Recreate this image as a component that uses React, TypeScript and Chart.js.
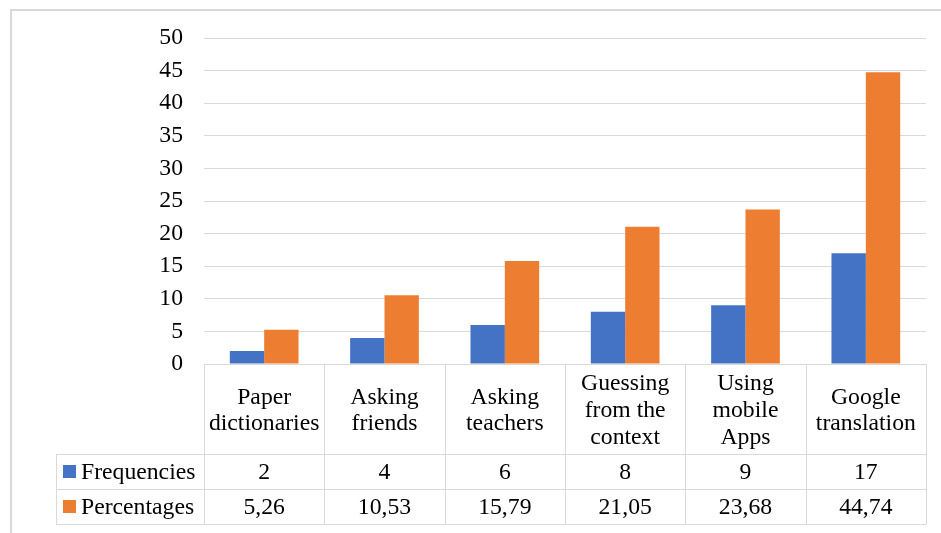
import React, { useEffect, useRef } from "react";
import { Chart, registerables } from "chart.js";

Chart.register(...registerables);

// ---- data ----
const categoryLines: string[][] = [
  ["Paper", "dictionaries"],
  ["Asking", "friends"],
  ["Asking", "teachers"],
  ["Guessing", "from the", "context"],
  ["Using", "mobile", "Apps"],
  ["Google", "translation"],
];
const seriesNames = ["Frequencies", "Percentages"];
const frequencies = [2, 4, 6, 8, 9, 17];
const percentages = [5.26, 10.53, 15.79, 21.05, 23.68, 44.74];
const yMin = 0;
const yMax = 50;
const yStep = 5;

// ---- styles ----
const FONT = "'Liberation Serif', 'Times New Roman', serif";
const FONT_SIZE = 23.7;
const LINE_H = 26.7;
const TEXT_COLOR = "#000000";
const GRID_COLOR = "#d9d9d9";
const COLORS = ["#4472C4", "#ED7D31"];

const W = 941;
const H = 533;
const PLOT_LEFT = 204;

function fmt(v: number, isPct: boolean) {
  return isPct ? v.toFixed(2).replace(".", ",") : String(v);
}

const tablePlugin = {
  id: "dataTable",
  afterDraw(chart: any) {
    const { ctx, chartArea } = chart;
    const xs = chart.scales.x;
    const n = categoryLines.length;
    const catW = (chartArea.right - chartArea.left) / n;
    const top = chartArea.bottom;
    const r1 = top + 90;
    const r2 = r1 + 35;
    const r3 = r2 + 35;
    const legendLeft = 56;

    ctx.save();
    // outer border (extends past the right and bottom edges)
    ctx.strokeStyle = GRID_COLOR;
    ctx.lineWidth = 2;
    ctx.strokeRect(11, 10, W + 20, H + 20);

    ctx.lineWidth = 1;
    ctx.strokeStyle = GRID_COLOR;
    ctx.beginPath();
    ctx.moveTo(chartArea.left, Math.round(top) + 0.5);
    ctx.lineTo(chartArea.right, Math.round(top) + 0.5);
    for (const y of [r1, r2, r3]) {
      ctx.moveTo(legendLeft, Math.round(y) + 0.5);
      ctx.lineTo(chartArea.right, Math.round(y) + 0.5);
    }
    for (let i = 0; i <= n; i++) {
      const x = Math.round(chartArea.left + i * catW) + 0.5;
      ctx.moveTo(x, top);
      ctx.lineTo(x, r3 + 0.5);
    }
    ctx.moveTo(legendLeft + 0.5, r1);
    ctx.lineTo(legendLeft + 0.5, r3 + 0.5);
    ctx.stroke();

    // text
    ctx.fillStyle = TEXT_COLOR;
    ctx.font = `${FONT_SIZE}px ${FONT}`;
    ctx.textAlign = "center";
    ctx.textBaseline = "alphabetic";
    const baseOff = FONT_SIZE * 0.3375;
    const catMid = (top + r1) / 2;
    categoryLines.forEach((lines, i) => {
      const cx = xs.getPixelForValue(i);
      const startMid = catMid - ((lines.length - 1) * LINE_H) / 2;
      lines.forEach((ln, j) => {
        ctx.fillText(ln, cx, startMid + j * LINE_H + baseOff);
      });
    });
    const rows = [
      { vals: frequencies, mid: (r1 + r2) / 2, pct: false },
      { vals: percentages, mid: (r2 + r3) / 2, pct: true },
    ];
    rows.forEach((row, ri) => {
      row.vals.forEach((v, i) => {
        ctx.fillText(fmt(v, row.pct), xs.getPixelForValue(i), row.mid + baseOff);
      });
      ctx.fillStyle = COLORS[ri];
      ctx.fillRect(63, Math.round(row.mid - 6.5), 13, 13);
      ctx.fillStyle = TEXT_COLOR;
      ctx.textAlign = "left";
      ctx.fillText(seriesNames[ri], 81, row.mid + baseOff);
      ctx.textAlign = "center";
    });
    ctx.restore();
  },
};

export default function App() {
  const ref = useRef<HTMLCanvasElement>(null);
  useEffect(() => {
    if (!ref.current) return;
    const chart = new Chart(ref.current, {
      type: "bar",
      data: {
        labels: categoryLines.map((l) => l.join(" ")),
        datasets: [
          {
            label: seriesNames[0],
            data: frequencies,
            backgroundColor: COLORS[0],
            categoryPercentage: 0.571,
            barPercentage: 1.0,
          },
          {
            label: seriesNames[1],
            data: percentages,
            backgroundColor: COLORS[1],
            categoryPercentage: 0.571,
            barPercentage: 1.0,
          },
        ],
      },
      options: {
        animation: false,
        responsive: false,
        maintainAspectRatio: false,
        layout: { padding: { left: 0, right: 15, top: 38, bottom: 169 } },
        plugins: { legend: { display: false }, tooltip: { enabled: false } },
        scales: {
          x: { display: false },
          y: {
            min: yMin,
            max: yMax,
            ticks: {
              stepSize: yStep,
              padding: 21,
              color: TEXT_COLOR,
              font: { family: FONT, size: FONT_SIZE },
            },
            grid: { color: GRID_COLOR, lineWidth: 1, drawTicks: false },
            border: { display: false },
            afterFit: (scale: any) => {
              scale.width = PLOT_LEFT;
              scale.paddingTop = 0;
              scale.paddingBottom = 0;
            },
          },
        },
      },
      plugins: [tablePlugin],
    });
    return () => chart.destroy();
  }, []);
  return (
    <div style={{ position: "absolute", left: 0, top: 0, width: W, height: H, overflow: "hidden" }}>
      <canvas ref={ref} width={W} height={H} style={{ display: "block", width: W, height: H }} />
    </div>
  );
}
